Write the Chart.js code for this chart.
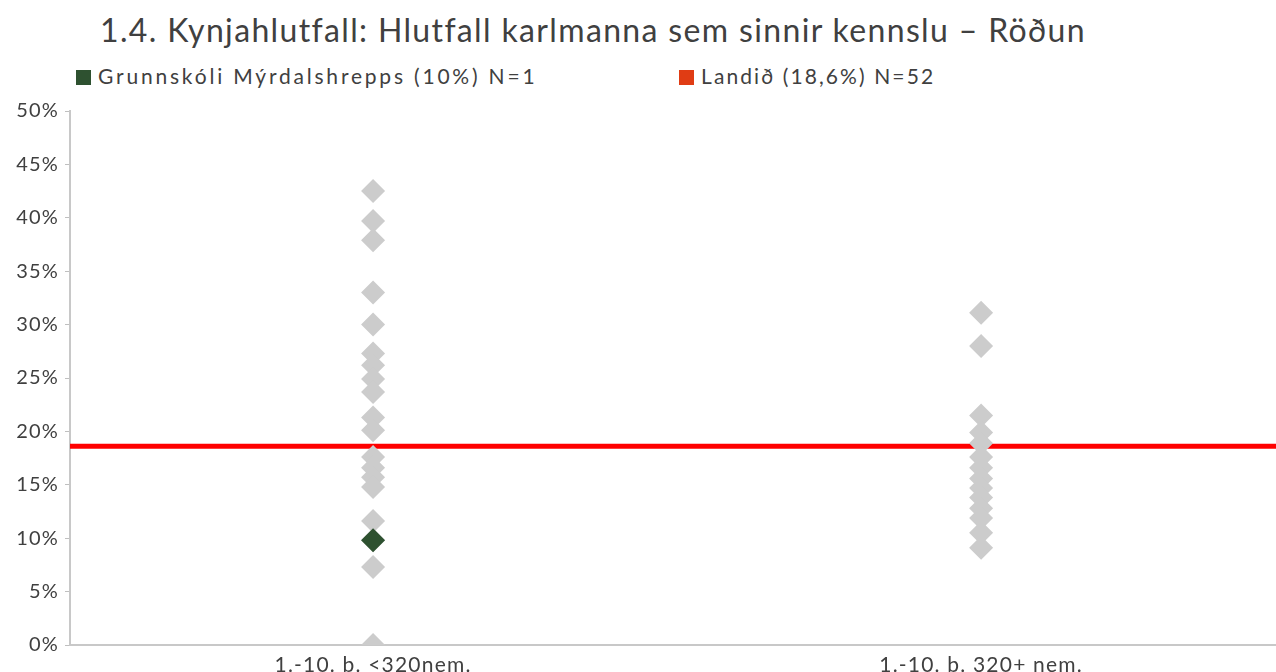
<!DOCTYPE html>
<html>
<head>
<meta charset="utf-8">
<script src="https://cdn.jsdelivr.net/npm/chart.js@4/dist/chart.umd.min.js"></script>
<style>
  html, body { margin:0; padding:0; background:#ffffff; width:1276px; height:672px; overflow:hidden; }
  #title { position:absolute; left:100px; top:10px; font-family:Lato, "Open Sans", sans-serif; font-size:32px; color:#404040; white-space:nowrap; letter-spacing:1.35px; }
  .leg { position:absolute; top:63px; font-family:Lato, "Open Sans", sans-serif; font-size:21px; color:#404040; white-space:nowrap; letter-spacing:2.2px; }
  .sw { display:inline-block; width:15px; height:15px; margin-right:7px; vertical-align:-1px; }
  #wrap { position:absolute; left:0; top:0; width:1288px; height:672px; }
</style>
</head>
<body>
<div id="title"></div>
<div class="leg" id="leg1" style="left:76px; letter-spacing:2.8px;"></div>
<div class="leg" id="leg2" style="left:679px; letter-spacing:2.1px;"></div>
<div id="wrap"><canvas id="c"></canvas></div>
<script>
const titleText = "1.4. Kynjahlutfall: Hlutfall karlmanna sem sinnir kennslu – Röðun";
const categories = ["1.-10. b. <320nem.", "1.-10. b. 320+ nem."];
const schoolLabel = "Grunnskóli Mýrdalshrepps (10%) N=1";
const nationLabel = "Landið (18,6%) N=52";
const yTicks = [0, 5, 10, 15, 20, 25, 30, 35, 40, 45, 50];

// Gray: all schools, per category (percent)
const smallSchools = [42.5, 39.7, 37.9, 33.0, 30.0, 27.3, 26.2, 24.9, 23.7, 21.3, 20.1, 17.6, 16.6, 15.7, 14.8, 11.6, 9.8, 7.3, 0.0];
const largeSchools = [31.1, 28.0, 21.5, 19.9, 18.9, 17.6, 16.6, 15.6, 14.7, 13.8, 12.8, 11.9, 10.5, 9.1];
// Green: this school
const schoolCategory = 0;
const schoolValue = [9.8];
// Red: national average
const nationValue = 18.6;

const colGray = "#cccccc";
const colGreen = "#2e5130";
const colRed = "#ff0000";
const colLegendRed = "#e03c14";

document.getElementById("title").textContent = titleText;
document.getElementById("leg1").innerHTML = '<span class="sw" style="background:' + colGreen + '"></span>';
document.getElementById("leg1").appendChild(document.createTextNode(schoolLabel));
document.getElementById("leg2").innerHTML = '<span class="sw" style="background:' + colLegendRed + '"></span>';
document.getElementById("leg2").appendChild(document.createTextNode(nationLabel));

const xMin = 0.0016, xMax = 1.985;
const catPos = i => i + 0.5;

const grayData = [];
[smallSchools, largeSchools].forEach((arr, i) => arr.forEach(v => grayData.push({x: catPos(i), y: v})));
const greenData = schoolValue.map(v => ({x: catPos(schoolCategory), y: v}));
const redData = [{x: xMin, y: nationValue}, {x: xMax, y: nationValue}];

const tickFont = {family: "Lato, 'Open Sans', sans-serif", size: 20};

const spacing = {
  id: 'spacing',
  beforeDraw(chart) { try { chart.ctx.letterSpacing = '1.2px'; } catch (e) {} }
};

new Chart(document.getElementById("c"), {
  plugins: [spacing],
  data: {
    datasets: [
      { type:'scatter', label: schoolLabel, data: greenData, pointStyle:'rectRot', pointRadius:12, pointHoverRadius:12,
        backgroundColor: colGreen, borderWidth:0, order:1 },
      { type:'scatter', label:'all', data: grayData, pointStyle:'rectRot', pointRadius:12, pointHoverRadius:12,
        backgroundColor: colGray, borderWidth:0, order:2 },
      { type:'line', label: nationLabel, data: redData, borderColor: colRed, borderWidth:5, pointRadius:0,
        fill:false, order:3 }
    ]
  },
  options: {
    responsive:true, maintainAspectRatio:false, animation:false,
    layout: { padding: { top:111, left:0, right:0, bottom:0 } },
    plugins: { legend:{display:false}, tooltip:{enabled:false}, title:{display:false} },
    scales: {
      x: {
        type:'linear', min:xMin, max:xMax,
        afterBuildTicks: s => { s.ticks = categories.map((c, i) => ({value: catPos(i)})); },
        afterFit: s => { s.height = 27; },
        ticks: { callback: (v) => categories[Math.round(v - 0.5)], font: {family: tickFont.family, size: 21}, color:'#404040', padding:0, maxRotation:0, autoSkip:false },
        grid: { display:false },
        border: { display:true, color:'#c8c8c8', width:2 }
      },
      y: {
        min:0, max:50,
        afterBuildTicks: s => { s.ticks = yTicks.map(v => ({value:v})); },
        afterFit: s => { s.width = 70; },
        ticks: { callback: v => v + "%", font: tickFont, color:'#404040', padding:6 },
        grid: { drawOnChartArea:false, drawTicks:true, tickLength:5, color:'#bfbfbf' },
        border: { display:true, color:'#c8c8c8', width:2 }
      }
    }
  }
});
</script>
</body>
</html>
